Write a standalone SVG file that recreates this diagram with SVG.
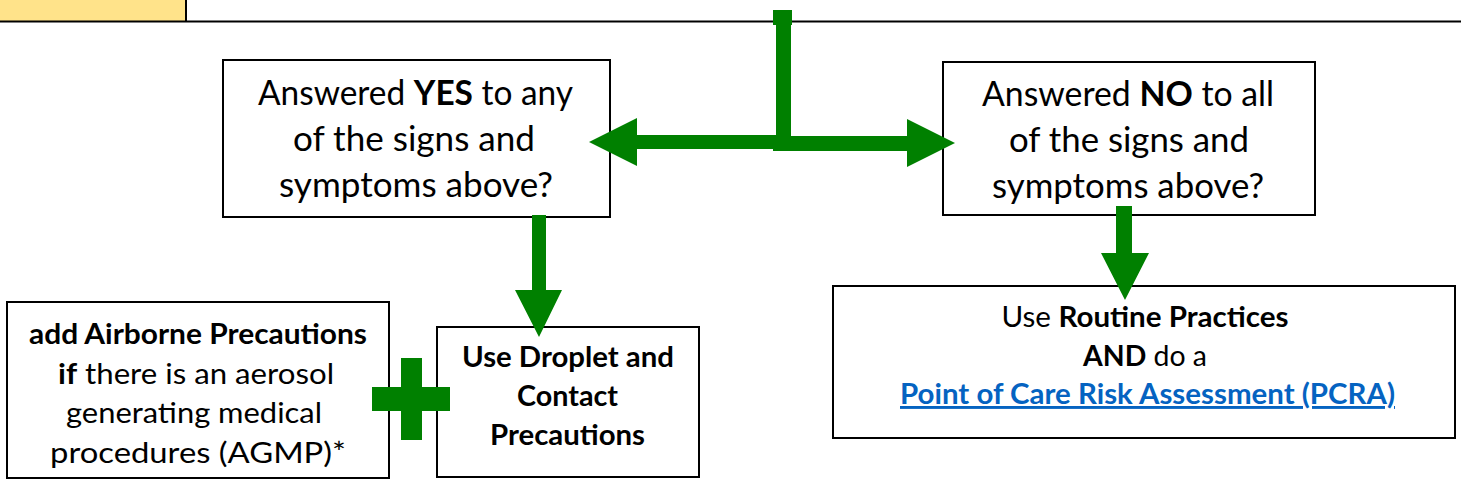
<svg xmlns="http://www.w3.org/2000/svg" width="1461" height="487" viewBox="0 0 1461 487">
<style>
.box{fill:#fff;stroke:#000;stroke-width:2}
.t{font-family:Lato,"Liberation Sans",sans-serif;fill:#000;text-anchor:middle}
.q{font-size:34px}
.s{font-size:29px}
.b{font-weight:bold}
.g{fill:#008000;stroke:none}
.link{fill:#0563C1;text-decoration:underline}
</style>
<g id="header">
<rect x="0" y="0" width="186" height="21" fill="#FFE38A"/>
<line x1="186" y1="0" x2="186" y2="21" stroke="#000" stroke-width="2"/>
<line x1="0" y1="21.5" x2="1461" y2="21.5" stroke="#000" stroke-width="2"/>
</g>
<g id="node-yes">
<rect class="box" x="223" y="60" width="387" height="157"/>
<text class="t q" x="415.5" y="105" textLength="315" lengthAdjust="spacingAndGlyphs">Answered <tspan class="b">YES</tspan> to any</text>
<text class="t q" x="414" y="151" textLength="242" lengthAdjust="spacingAndGlyphs">of the signs and</text>
<text class="t q" x="416" y="197" textLength="274" lengthAdjust="spacingAndGlyphs">symptoms above?</text>
</g>
<g id="node-no">
<rect class="box" x="943" y="62" width="372" height="153"/>
<text class="t q" x="1128" y="106" textLength="292" lengthAdjust="spacingAndGlyphs">Answered <tspan class="b">NO</tspan> to all</text>
<text class="t q" x="1129" y="152" textLength="240" lengthAdjust="spacingAndGlyphs">of the signs and</text>
<text class="t q" x="1128" y="198" textLength="272" lengthAdjust="spacingAndGlyphs">symptoms above?</text>
</g>
<g id="node-airborne">
<rect class="box" x="7" y="302" width="382" height="176"/>
<text class="t s b" x="198" y="344" textLength="338" lengthAdjust="spacingAndGlyphs">add Airborne Precautions</text>
<text class="t s" x="196" y="384" textLength="276" lengthAdjust="spacingAndGlyphs"><tspan class="b">if</tspan> there is an aerosol</text>
<text class="t s" x="194" y="423" textLength="256" lengthAdjust="spacingAndGlyphs">generating medical</text>
<text class="t s" x="198" y="463" textLength="296" lengthAdjust="spacingAndGlyphs">procedures (AGMP)*</text>
</g>
<g id="node-droplet">
<rect class="box" x="437" y="327" width="262" height="150"/>
<text class="t s b" x="568" y="367" textLength="212" lengthAdjust="spacingAndGlyphs">Use Droplet and</text>
<text class="t s b" x="567.5" y="406" textLength="101" lengthAdjust="spacingAndGlyphs">Contact</text>
<text class="t s b" x="567.5" y="445" textLength="155" lengthAdjust="spacingAndGlyphs">Precautions</text>
</g>
<g id="node-routine">
<rect class="box" x="833" y="286" width="622" height="152"/>
<text class="t s" x="1145" y="327" textLength="287" lengthAdjust="spacingAndGlyphs">Use <tspan class="b">Routine Practices</tspan></text>
<text class="t s" x="1145" y="366" textLength="124" lengthAdjust="spacingAndGlyphs"><tspan class="b">AND</tspan> do a</text>
<text class="t s b link" x="1147.5" y="404" textLength="495" lengthAdjust="spacingAndGlyphs">Point of Care Risk Assessment (PCRA)</text>
</g>
<g id="connectors">
<rect class="g" x="776" y="10" width="15" height="140"/>
<rect class="g" x="773" y="10" width="19" height="15"/>
<polygon class="g" points="589,142 637,118 637,135 780,135 780,149 637,149 637,166"/>
<polygon class="g" points="773,136 907,136 907,119 955,143 907,167 907,151 773,151"/>
<polygon class="g" points="532,215 546,215 546,290 562,290 539,337 515,290 532,290"/>
<polygon class="g" points="1116,206 1132,206 1132,253 1149,253 1125,300 1101,253 1116,253"/>
</g>
<g id="plus">
<rect class="g" x="372" y="387" width="78" height="24"/>
<rect class="g" x="401" y="358" width="21" height="82"/>
</g>
</svg>
